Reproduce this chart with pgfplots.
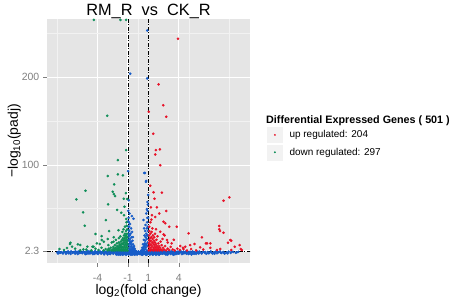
\documentclass[border=0pt]{standalone}
\usepackage{fontspec}
\setmainfont{Liberation Sans}
\usepackage{pgfplots}
\pgfplotsset{compat=1.18}
\definecolor{upred}{RGB}{232,18,40}
\definecolor{downgreen}{RGB}{14,142,88}
\definecolor{nsblue}{RGB}{22,92,200}
\definecolor{panelgray}{RGB}{229,229,229}
\definecolor{minorgray}{RGB}{242,242,242}
\definecolor{tickgray}{RGB}{127,127,127}
\begin{document}
\begin{tikzpicture}
\path[use as bounding box] (0,0) rectangle (454bp,302bp);
\begin{axis}[
  at={(47bp,39bp)}, anchor=south west,
  scale only axis, width=203bp, height=244bp,
  xmin=-8.97, xmax=11.0, ymin=-11.3, ymax=266,
  axis background/.style={fill=panelgray},
  axis line style={draw=none},
  xtick={-4,-1,1,4}, xticklabels={-4,-1,1,4},
  ytick={2.3,100,200}, yticklabels={2.3,100,200},
  minor xtick={-8,0,5,9}, minor ytick={51,150,250},
  grid=both,
  major grid style={white, line width=1.1bp},
  minor grid style={minorgray, line width=0.5bp},
  tick align=outside, major tick length=4bp, minor tick length=0pt,
  tick style={tickgray, line width=0.6bp},
  tick pos=left,
  ticklabel style={font=\fontsize{10.5}{12}\selectfont, text=tickgray},
  xticklabel style={anchor=north, inner sep=0pt, yshift=-7bp},
  yticklabel style={anchor=east, inner sep=0pt, xshift=-3.5bp},
  every axis title shift=0pt,
  title={RM\_R\ \ vs\ \ CK\_R},
  title style={at={(axis description cs:0.5,1.0143)}, anchor=base, font=\fontsize{16.4}{18}\selectfont, inner sep=0pt},
  xlabel={log\textsubscript{2}(fold change)},
  xlabel style={at={(axis description cs:0.5,-0.129)}, anchor=base, font=\fontsize{14}{16}\selectfont, inner sep=0pt},
  ylabel={\raisebox{0.2ex}{\textminus}log\textsubscript{10}(padj)},
  ylabel style={at={(axis description cs:-0.1429,0.5)}, anchor=base, font=\fontsize{14}{16}\selectfont, inner sep=0pt},
  legend style={at={(axis description cs:1.0837,0.5574)}, anchor=north west, draw=none, fill=none,
    inner sep=0pt, row sep=2bp, font=\fontsize{10}{12}\selectfont,
    nodes={inner sep=0pt, anchor=west},
    /tikz/every odd column/.append style={column sep=7bp}},
  legend cell align=left,
]
% non-significant (blue)
\addplot[forget plot, only marks, mark=*, mark size=1.1bp, color=nsblue, mark options={draw=none}] coordinates {
(-7.95,0.8)(-7.8,1.6)(-7.7,0.2)(-7.55,1.1)(-7.4,-0.4)(-7.3,1.8)(-7.15,0.6)(-7.0,1.3)(-6.85,-0.2)(-6.7,0.9)(-6.6,1.9)(-6.45,0.3)(-6.3,1.4)(-6.2,-0.6)(-6.05,0.7)(-5.9,1.7)(-5.8,0.1)(-5.65,1.2)(-5.5,-0.3)(-5.4,1.9)(-5.3,0.5)(-5.15,1.4)(-5.05,-0.8)
(-4.95,0.9)(-4.85,1.8)(-4.75,-0.5)(-4.65,0.4)(-4.55,1.5)(-4.45,-1.2)(-4.35,0.8)(-4.25,2.0)(-4.15,-0.2)(-4.05,1.2)(-3.95,-1.0)(-3.85,0.5)(-3.75,1.7)(-3.65,-0.6)(-3.55,0.9)(-3.45,2.0)(-3.35,-1.4)(-3.25,0.2)(-3.15,1.4)(-3.05,-0.4)(-2.95,0.8)(-2.85,1.9)(-2.75,-1.1)(-2.65,0.4)(-2.55,1.5)(-2.45,-0.7)(-2.35,1.0)(-2.25,2.0)(-2.15,-1.6)(-2.05,0.3)
(-4.9,-0.3)(-4.6,1.0)(-4.3,-0.9)(-4.0,0.3)(-3.7,1.1)(-3.4,-0.2)(-3.1,0.6)(-2.8,-0.5)(-2.5,0.9)(-2.2,-0.6)
(-1.95,1.2)(-1.9,-0.8)(-1.85,1.9)(-1.8,0.2)(-1.75,-1.8)(-1.7,1.0)(-1.65,2.0)(-1.6,-0.5)(-1.55,0.6)(-1.5,1.6)(-1.45,-1.3)(-1.4,0.3)(-1.35,1.9)(-1.3,-0.2)(-1.25,1.1)(-1.2,-1.9)(-1.15,0.5)(-1.1,1.7)(-1.05,-0.9)(-1.0,0.9)
(-1.92,0.5)(-1.78,1.4)(-1.62,-1.2)(-1.48,0.0)(-1.33,-1.0)(-1.18,2.1)(-1.07,0.2)(-1.88,-1.5)(-1.58,2.1)(-1.28,0.7)
(-0.95,-1.5)(-0.9,0.3)(-0.85,1.6)(-0.8,-0.7)(-0.75,0.8)(-0.7,-1.9)(-0.65,1.3)(-0.6,-0.3)(-0.55,0.6)(-0.5,-1.2)(-0.45,1.0)(-0.4,-0.6)(-0.35,0.2)(-0.3,-1.5)(-0.25,0.7)(-0.2,-0.9)(-0.15,0.4)(-0.1,-1.8)(-0.05,0.9)(0.0,-0.4)(0.05,1.2)(0.1,-1.1)(0.15,0.3)(0.2,-0.7)(0.25,1.1)(0.3,-1.6)(0.35,0.5)(0.4,-0.3)(0.45,1.4)(0.5,-1.0)(0.55,0.1)(0.6,1.7)(0.65,-0.6)(0.7,0.8)(0.75,-1.8)(0.8,1.2)(0.85,-0.2)(0.9,0.6)(0.95,-1.3)(1.0,1.5)
(1.05,-0.4)(1.1,1.0)(1.15,-1.7)(1.2,1.9)(1.25,0.2)(1.3,-0.9)(1.35,1.3)(1.4,-0.2)(1.45,2.0)(1.5,-1.4)(1.55,0.6)(1.6,1.6)(1.65,-0.6)(1.7,0.9)(1.75,-1.9)(1.8,1.8)(1.85,0.0)(1.9,-1.1)(1.95,1.2)(2.0,0.4)
(1.08,2.1)(1.22,-0.6)(1.38,0.7)(1.52,2.1)(1.68,-1.2)(1.82,0.5)(1.97,-0.8)(1.13,0.4)(1.43,-1.0)(1.73,1.4)
(2.1,-1.3)(2.2,1.5)(2.3,0.1)(2.4,-0.8)(2.5,1.8)(2.6,0.6)(2.7,-1.5)(2.8,1.1)(2.9,-0.2)(3.0,1.9)(3.1,0.4)(3.2,-1.0)(3.3,1.3)(3.4,-0.4)(3.5,0.8)(3.6,2.0)(3.7,-1.2)(3.8,0.5)(3.9,1.6)(4.0,-0.6)(4.15,0.9)(4.3,-1.1)(4.45,1.7)(4.6,0.2)(4.75,-0.8)(4.9,1.3)(5.05,-0.3)(5.2,0.7)(5.35,1.9)(5.5,-0.9)(5.65,0.4)(5.8,1.5)(5.95,-0.5)
(2.15,0.3)(2.35,2.0)(2.55,-0.5)(2.75,0.4)(2.95,-1.1)(3.15,1.0)(3.35,0.2)(3.55,-1.3)(3.75,1.2)(3.95,0.0)(4.2,2.0)(4.5,-0.4)(4.8,0.6)(5.1,1.6)(5.4,-0.2)(5.7,-1.0)
(6.1,1.0)(6.25,-0.4)(6.4,1.7)(6.55,0.3)(6.7,-0.7)(6.85,1.2)(7.0,0.1)(7.15,1.8)(7.3,-0.5)(7.45,0.8)(7.6,1.5)(7.75,-0.2)(7.9,0.9)(8.05,1.9)(8.2,0.0)(8.35,1.3)(8.5,-0.6)(8.7,0.7)(8.9,1.6)(9.1,0.2)(9.35,1.1)(9.6,0.4)(9.85,1.4)
(-7.88,-0.5)(-7.62,0.5)(-7.35,0.9)(-7.1,-0.8)(-6.9,1.9)(-6.65,-1.0)(-6.4,1.0)(-6.15,1.9)(-5.95,-1.1)(-5.7,0.4)(-5.45,1.0)(-5.2,-1.2)(-5.0,2.0)(-4.8,0.2)(-4.5,0.5)(-4.2,1.4)(-3.9,2.0)(-3.6,0.2)(-3.3,1.9)(-3.0,-1.5)(-2.7,1.2)(-2.4,2.0)(-2.1,1.1)(-1.97,-1.8)(-1.83,-0.6)(-1.68,0.5)(-1.53,-1.9)(-1.38,1.5)(-1.23,-0.2)(-1.12,-1.4)(-0.98,2.0)(-0.88,-1.0)(-0.78,1.9)(-0.68,0.2)(-0.58,-1.6)(-0.48,1.7)(-0.38,-1.8)(-0.28,1.3)(-0.18,1.8)(-0.08,-0.2)(0.02,1.8)(0.12,0.4)(0.22,1.6)(0.32,0.0)(0.42,-1.9)(0.52,1.9)(0.62,0.4)(0.72,-1.0)(0.82,-1.9)(0.92,1.9)(1.02,0.4)(1.12,-0.8)(1.28,1.8)(1.42,-1.8)(1.58,-0.2)(1.72,-0.5)(1.88,1.9)(2.05,-1.8)(2.25,-0.5)(2.45,0.9)(2.65,1.9)(2.85,-1.9)(3.05,0.5)(3.25,1.9)(3.45,-1.8)(3.65,0.6)(3.85,-0.4)(4.05,1.9)(4.35,0.4)(4.65,1.6)(4.95,-1.0)(5.25,-1.6)(5.55,0.9)(5.85,0.3)(6.0,1.8)(6.3,0.6)(6.6,1.2)(6.9,-0.2)(7.2,0.7)(7.5,-0.8)(7.8,1.6)(8.1,0.6)(8.45,0.4)(8.8,-0.3)(9.2,1.7)(9.7,0.8)
(-0.98,48)(-0.95,40)(-0.92,35)(-0.9,30)(-0.88,25)(-0.95,22)(-0.85,20)(-0.97,18)(-0.8,16)(-0.9,14)(-0.75,13)(-0.85,11)(-0.7,10)(-0.95,9)(-0.65,8)(-0.8,7)(-0.6,6)(-0.9,5)(-0.55,5)(-0.75,4)(-0.5,4)(-0.65,3)(-0.45,3)(-0.85,3)(-0.4,2.5)(-0.6,2)(-0.35,1.5)(-0.95,1)(-0.7,12)(-0.62,42)(-0.46,39)(-0.8,33)(-0.7,28)(-0.75,22)(-0.66,18)(-0.55,14)(-0.5,10)(-0.45,7)(-0.35,5)(-0.3,3)(-0.25,2)(-0.92,60)(-0.85,45)(-0.99,93)(-0.79,203.8)(-0.97,30)(-0.93,26)(-0.99,15)(-0.99,36)(-0.6,24)(-0.52,18)(-0.4,8)
(0.98,66)(0.95,55)(0.92,48)(0.9,40)(0.88,35)(0.95,30)(0.85,28)(0.97,25)(0.8,22)(0.9,20)(0.75,18)(0.85,16)(0.7,14)(0.95,12)(0.65,11)(0.8,10)(0.6,9)(0.9,8)(0.55,7)(0.75,6)(0.5,5)(0.65,4)(0.45,4)(0.85,3)(0.4,3)(0.6,2)(0.35,2)(0.95,1.5)(0.7,25)(0.52,37.5)(0.59,91)(0.76,81)(0.66,91)(0.79,82)(0.89,253)(0.89,198.5)(0.8,45)(0.72,32)(0.62,20)(0.55,15)(0.47,10)(0.4,6)(0.3,3)(0.25,1.5)(0.92,58)(0.85,50)(0.97,40)(0.98,20)(0.68,8)(0.58,28)
};
% up regulated (red)
\addplot[only marks, mark=*, mark size=1.1bp, color=upred, mark options={draw=none},
  legend image code/.code={\fill[minorgray] (0bp,-7.5bp) rectangle (15bp,7.5bp); \fill[upred] (7.5bp,0bp) circle (0.7bp);}] coordinates {
(3.91,243.6)(2.0,191.7)(2.46,168)(1.05,160.6)(2.76,155)(1.48,135.6)(1.74,117)(2.14,117.8)(1.67,112)(2.17,99.7)(1.18,76.5)(1.51,69)(2.33,68.6)(1.6,61.7)(8.97,63.3)(8.4,59.5)(2.76,47.8)(1.25,52)(1.84,52)(2.07,45)(1.35,43)(1.67,41)(3.05,29.9)(3.8,29.9)(4.96,22.4)(7.98,30.7)(8.05,25)(8.4,23.1)(6.67,11)(7.1,11)(5.55,10.3)(6.1,6.5)(8.84,11.7)(9.16,14)(9.5,7.2)(10.2,3.4)(9.16,3.4)(7.75,3.4)(2.66,33.8)(2.17,24.2)(2.5,21.3)(2.83,14.8)(3.3,11)(4.14,8)(4.63,7.2)
(2.5,35.6)(6.27,17.9)(6.77,11)(7.98,27)(9.06,14.8)(9.98,9.1)(10.1,4.6)(8.08,4.6)(7.1,6)(4.46,4.6)(5.12,9)
(1.05,3)(1.05,7)(1.06,11)(1.08,15)(1.07,20)(1.1,25)(1.09,30)(1.12,4)(1.14,9)(1.15,13)(1.17,17)(1.2,22)(1.22,3)(1.24,6)(1.25,10)(1.27,14)(1.3,18)(1.32,24)(1.35,4)(1.37,8)(1.4,12)(1.42,16)(1.45,20)(1.48,3)(1.5,6)(1.52,10)(1.55,14)(1.58,18)(1.6,4)(1.63,8)(1.66,12)(1.7,3)(1.73,6)(1.76,10)(1.8,15)(1.83,4)(1.86,8)(1.9,3)(1.94,6)(1.98,11)(2.02,4)(2.06,8)(2.1,3)(2.15,6)(2.2,13)(2.25,4)(2.3,9)(2.35,3)(2.45,6)(2.55,4)(2.65,8)(2.75,3)(2.9,5)(3.05,3.5)(3.2,7)(3.4,4)(3.6,3)(3.85,5)(4.1,3.5)(4.4,6)(4.8,3)(5.2,4.5)(5.7,3)(6.4,4)(1.2,35)(1.4,28)(1.65,22)(1.9,19)(2.4,16)(2.9,12)(1.3,38)(1.75,27)(2.6,20)(3.5,15)
};
\addlegendentry{up regulated: 204}
% down regulated (green)
\addplot[only marks, mark=*, mark size=1.1bp, color=downgreen, mark options={draw=none},
  legend image code/.code={\fill[minorgray] (0bp,-7.5bp) rectangle (15bp,7.5bp); \fill[downgreen] (7.5bp,0bp) circle (0.7bp);}] coordinates {
(-4.36,265)(-1.74,265)(-1.18,265)(-3.05,156)(-1.18,117)(-2.0,105.7)(-2.99,87.5)(-2.0,89.5)(-1.5,88.3)(-2.36,78)(-5.19,70.8)(-2.5,69.7)(-2.4,67)(-2.27,64.8)(-1.21,68)(-6.08,61)(-1.41,61.7)(-1.08,61.4)(-2.96,55.4)(-5.42,46.3)(-5.25,31)(-3.18,37.5)(-2.86,25)(-4.2,21.6)(-3.6,19.3)(-6.67,11.7)(-5.94,9.9)(-2.07,49)(-1.67,45.8)(-1.4,43)(-1.35,52.6)(-1.18,38.7)(-1.94,26)(-3.38,12.9)(-3.77,10.3)(-4.5,7.2)(-7,5.7)(-7.3,3.4)(-5.7,9.1)(-5.0,7.2)
(-7.75,4.6)(-6.7,10.3)(-6.5,7.2)(-5.4,4.2)(-4.4,7.2)(-4.07,11)(-3.58,14.8)(-2.93,9.1)(-2.43,12.9)
(-1.05,3)(-1.05,6)(-1.06,10)(-1.08,14)(-1.07,18)(-1.1,22)(-1.09,27)(-1.12,31)(-1.12,4)(-1.15,8)(-1.14,12)(-1.17,16)(-1.18,20)(-1.2,25)(-1.22,3)(-1.24,6)(-1.25,10)(-1.27,14)(-1.28,18)(-1.3,22)(-1.33,4)(-1.35,8)(-1.37,12)(-1.38,16)(-1.4,20)(-1.42,3)(-1.44,6)(-1.46,10)(-1.48,14)(-1.5,17)(-1.52,4)(-1.55,7)(-1.57,11)(-1.6,15)(-1.62,3)(-1.65,6)(-1.67,9)(-1.7,13)(-1.72,4)(-1.75,7)(-1.78,10)(-1.8,3)(-1.83,6)(-1.86,9)(-1.9,12)(-1.93,4)(-1.96,7)(-2.0,3)(-2.03,5)(-2.07,8)(-2.1,11)(-2.15,4)(-2.2,6)(-2.25,3)(-2.3,9)(-2.35,5)(-2.4,3)(-2.45,7)(-2.5,4)(-2.6,3)(-2.7,6)(-2.8,3.5)(-2.9,5)(-3.0,3)(-3.2,4.5)(-3.4,3)(-3.6,6)(-3.9,3.5)(-4.2,5)(-4.6,3)(-5.1,4)(-5.7,3.2)(-6.2,5)(-1.15,35)(-1.3,30)(-1.55,24)(-1.75,19)(-2.2,15)(-2.6,12)(-3.0,16)(-1.45,27)(-1.9,17)(-2.4,18)
};
\addlegendentry{down regulated: 297}
% threshold lines
\addplot[forget plot, black, line width=0.9bp, dash pattern=on 4bp off 1.5bp on 1bp off 1.5bp] coordinates {(-1,-20) (-1,300)};
\addplot[forget plot, black, line width=0.9bp, dash pattern=on 4bp off 1.5bp on 1bp off 1.5bp] coordinates {(1,-20) (1,300)};
\addplot[forget plot, black, line width=0.9bp, dash pattern=on 4bp off 1.5bp on 1bp off 1.5bp] coordinates {(-20,2.3) (20,2.3)};
\end{axis}
\node[anchor=base west, inner sep=0pt, font=\bfseries\fontsize{10.8}{12}\selectfont] at (266bp,178bp) {Differential Expressed Genes ( 501 )};
\end{tikzpicture}
\end{document}
